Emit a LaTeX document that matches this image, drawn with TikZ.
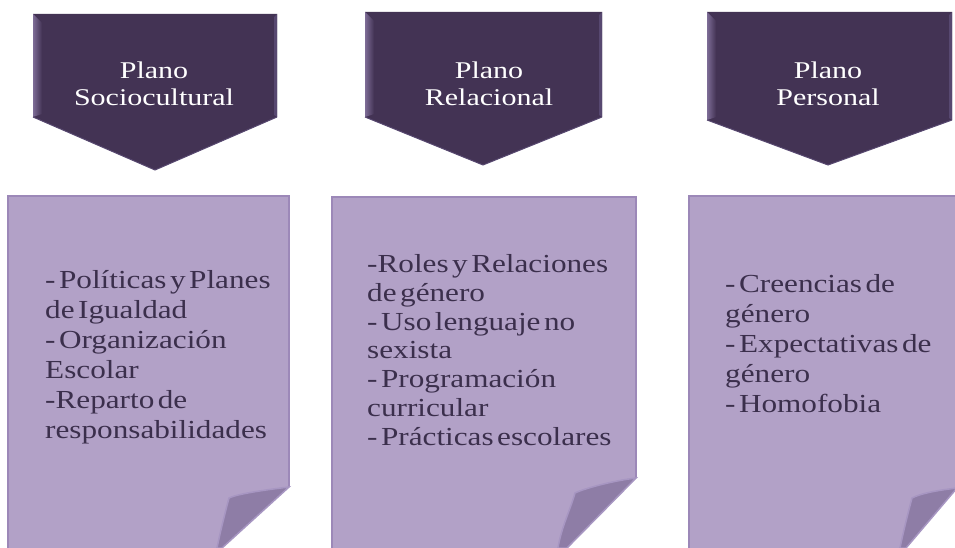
\documentclass[tikz,border=0pt]{standalone}
\usepackage{fontspec}
\setmainfont{Liberation Serif}
\newfontfamily\hdfont[FakeStretch=1.25]{Liberation Serif}
\newfontfamily\bxfont[FakeStretch=1.2, WordSpace=0.45]{Liberation Serif}
\definecolor{arrowfill}{HTML}{433354}
\definecolor{bevelL}{HTML}{7D6C96}
\definecolor{bevelR}{HTML}{574870}
\definecolor{boxfill}{HTML}{B2A1C7}
\definecolor{boxline}{HTML}{9C88B8}
\definecolor{foldfill}{HTML}{8E7DA6}
\definecolor{foldline}{HTML}{A796C2}
\definecolor{txt}{HTML}{3B2F4C}
\tikzset{
  hdtext/.style={font={\hdfont\fontsize{24}{27}\selectfont}, text=white, align=center, inner sep=0pt},
  bxtext/.style={font={\bxfont\fontsize{26}{30}\selectfont}, text=txt, align=left, inner sep=0pt},
  boxborder/.style={draw=boxline, line width=2pt},
}
% #1 left, #2 right, #3 top, #4 shoulder, #5 tip x, #6 tip y
\newcommand\planarrow[6]{%
  \fill[arrowfill] (#1,#3) -- (#2,#3) -- (#2,#4) -- (#5,#6) -- (#1,#4) -- cycle;
  \shade[left color=bevelL, right color=arrowfill] (#1,#3) -- (#1+9,#3+9) -- (#1+9,#4-3) -- (#1,#4) -- cycle;
  \fill[bevelR] (#2,#3) -- (#2,#4) -- (#2-3,#4-2) -- (#2-3,#3+3) -- cycle;
  \draw[bevelR, line width=1pt] (#1,#4) -- (#5,#6) -- (#2,#4);
}
% #1 left, #2 right, #3 top, #4 right-edge end y, #5 diag bottom x, #6 fold vertex x, #7 fold vertex y, #8 fold bottom x
\newcommand\planbox[8]{%
  \fill[boxfill] (#1,#3) -- (#2,#3) -- (#2,#4) -- (#5,548) -- (#5,560) -- (#1,560) -- cycle;
  \draw[boxborder] (#1,560) -- (#1,#3) -- (#2,#3) -- (#2,#4);
  \fill[foldfill, draw=foldline, line width=1.5pt] (#2,#4) .. controls (#2-25,#4+3) and (#6+8,#7-4) .. (#6,#7)
     .. controls (#6-4,#7+15) and (#8+3,#7+35) .. (#8,548) -- (#5,548) -- cycle;
}
\begin{document}
\begin{tikzpicture}[x=1pt, y=-1pt]
\useasboundingbox (0,0) rectangle (955,548);
\fill[white] (0,0) rectangle (955,548);

\planarrow{33}{277}{14}{117}{155}{170}
\planarrow{365}{602}{12}{117}{483}{165}
\planarrow{707}{952}{12}{120}{828}{165}

% base anchor = baseline of the last line
\node[hdtext, anchor=base] (h1) at (154,106) {Plano\\Sociocultural};
\node[hdtext, anchor=base] (h2) at (489,106) {Plano\\Relacional};
\node[hdtext, anchor=base] (h3) at (828,106) {Plano\\Personal};

\planbox{8}{289}{196}{487}{222}{229}{498}{217}
\planbox{332}{636}{197}{478}{567}{575}{493}{558}
\planbox{689}{957}{196}{488}{906}{912}{498}{900}

\node[bxtext, anchor=base west] (b1) at (45,438) {- Políticas y Planes\\de Igualdad\\- Organización\\Escolar\\-Reparto de\\responsabilidades};
\node[bxtext, anchor=base west, font={\bxfont\fontsize{26}{28.7}\selectfont}] (b2) at (367,445) {-Roles y Relaciones\\de género\\- Uso lenguaje no\\sexista\\- Programación\\curricular\\- Prácticas escolares};
\node[bxtext, anchor=base west] (b3) at (725,412) {- Creencias de\\género\\- Expectativas de\\género\\- Homofobia};
\end{tikzpicture}
\end{document}
